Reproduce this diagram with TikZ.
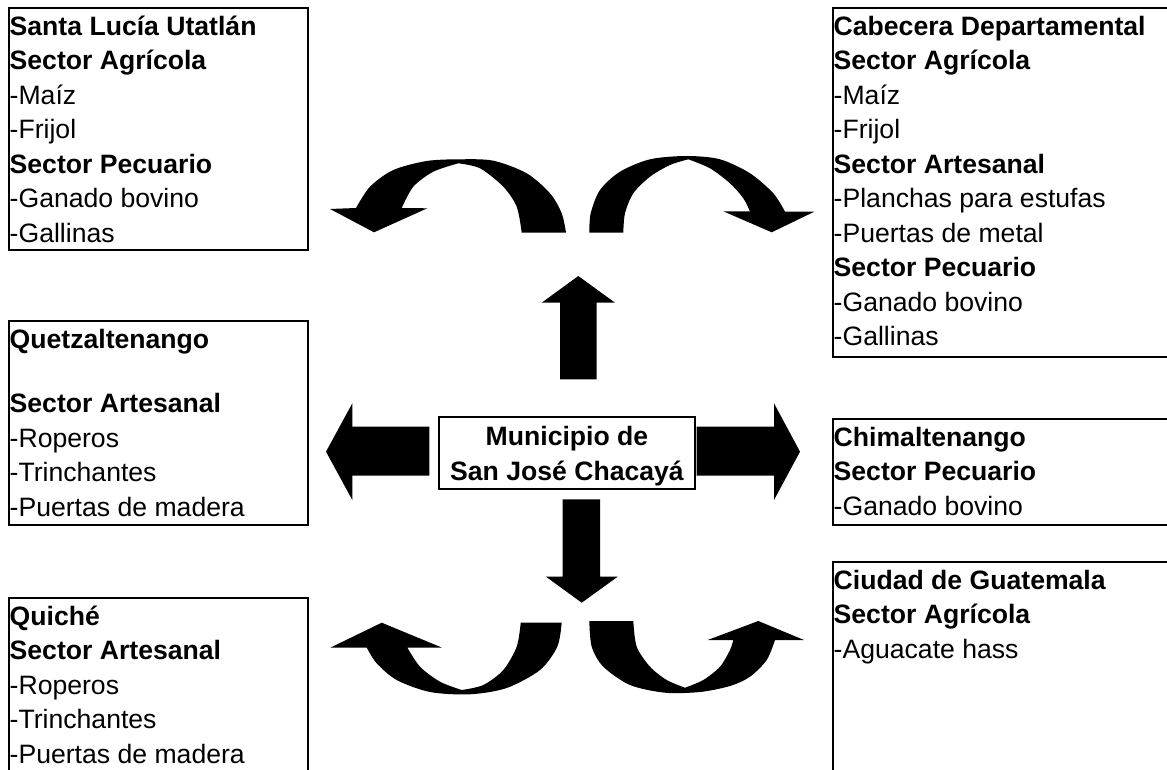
\documentclass[tikz,border=0pt]{standalone}
\usepackage{fontspec}
\setmainfont{Liberation Sans}
\tikzstyle{canvas} = [x = 1pt, y = -1pt]
\tikzstyle{boxFrame} = [draw, line width = 2.2pt, anchor = north west, inner sep = 0pt]
\tikzstyle{boxText} = [anchor = north west, inner sep = 0pt, align = left, font = \boxFont]
\tikzstyle{centerBox} = [draw, line width = 1.6pt, minimum width = 256pt, minimum height = 72pt, inner sep = 0pt, align = center, font = \boxFont\bfseries]
\tikzstyle{arrowFill} = [fill = black]
\newcommand{\boxFont}{\fontsize{26.6}{34.5}\selectfont}
\newcommand{\lineStrut}{\rule{0pt}{25.5pt}}
\newcommand{\infoBox}[6]{
  \node [boxFrame, minimum width = #4pt, minimum height = #5pt] (#1) at (#2, #3) {};
  \node [boxText] (#1Text) at ([xshift = 1.5pt, yshift = -2.5pt] #1.north west) {\lineStrut #6};
}

\begin{document}
\begin{tikzpicture}[canvas]
      \useasboundingbox (0, 0) rectangle (1167, 770);
      \clip (0, 0) rectangle (1167, 770);
      \infoBox{santaLucia}{8}{7}{299}{242}{\textbf{Santa Lucía Utatlán}\\\textbf{Sector Agrícola}\\-Maíz\\-Frijol\\\textbf{Sector Pecuario}\\-Ganado bovino\\-Gallinas}
      \infoBox{cabecera}{832}{7}{400}{349}{\textbf{Cabecera Departamental}\\\textbf{Sector Agrícola}\\-Maíz\\-Frijol\\\textbf{Sector Artesanal}\\-Planchas para estufas\\-Puertas de metal\\\textbf{Sector Pecuario}\\-Ganado bovino\\-Gallinas}
      \infoBox{quetzaltenango}{8}{320}{299}{204}{\textbf{Quetzaltenango}\\[30pt]\textbf{Sector Artesanal}\\-Roperos\\-Trinchantes\\-Puertas de madera}
      \infoBox{chimaltenango}{832}{418}{400}{106}{\textbf{Chimaltenango}\\\textbf{Sector Pecuario}\\-Ganado bovino}
      \infoBox{quiche}{8}{597}{299}{250}{\textbf{Quiché}\\\textbf{Sector Artesanal}\\-Roperos\\-Trinchantes\\-Puertas de madera}
      \infoBox{guatemala}{832}{561}{400}{250}{\textbf{Ciudad de Guatemala}\\\textbf{Sector Agrícola}\\-Aguacate hass}

      \node [centerBox] (municipio) at (567, 453) {\lineStrut Municipio de\\San José Chacayá};

      \fill [arrowFill] (560, 379.3) -- (560, 302.7) -- (541.7, 302.7) -- (578.3, 276) -- (615, 302.7) -- (596.7, 302.7) -- (596.7, 379.3) -- cycle;
      \fill [arrowFill] (562.7, 499.3) -- (600, 499.3) -- (600, 576.7) -- (617.7, 576.7) -- (581.7, 602.7) -- (546, 576.7) -- (562.7, 576.7) -- cycle;
      \fill [arrowFill] (429.3, 426.7) -- (352.3, 426.7) -- (352.3, 403.3) -- (326, 451.7) -- (352.3, 500) -- (352.3, 475.7) -- (429.3, 475.7) -- cycle;
      \fill [arrowFill] (696.7, 426.7) -- (774, 426.7) -- (774, 403.3) -- (800, 451.7) -- (774, 500) -- (774, 475.7) -- (696.7, 475.7) -- cycle;

      \fill [arrowFill] plot [smooth] coordinates {(566, 232.7) (561.7, 213.3) (550, 193.3) (526.7, 173.3) (493.3, 160.7) (460, 159.3) (426.7, 161) (393.3, 170) (370, 186.7) (356, 208)}
        -- (330, 209) -- (374, 232.3) -- (427.3, 208.3) -- (401.7, 208)
        -- plot [smooth] coordinates {(401.7, 208) (413.3, 186.7) (433.3, 171.7) (458.3, 163.3)}
        -- plot [smooth] coordinates {(458.3, 163.3) (480, 168.3) (503.3, 186.7) (516.7, 206.7) (521.7, 232.7)}
        -- cycle;
      \fill [arrowFill] plot [smooth] coordinates {(589.3, 232.7) (590.7, 213.3) (600, 190) (620, 171.7) (650, 159.3) (686.7, 156) (720, 159.3) (750, 173.3) (773.3, 193.3) (785, 211.7)}
        -- (814.3, 211.7) -- (771.7, 232.3) -- (723.3, 211.3) -- (750, 211.5)
        -- plot [smooth] coordinates {(750, 211.5) (743.3, 198.3) (730, 183.3) (710, 168.3) (688.3, 159.3)}
        -- plot [smooth] coordinates {(688.3, 159.3) (670, 165) (650, 176.7) (633.3, 193.3) (625, 213.3) (623.3, 232.7)}
        -- cycle;
      \fill [arrowFill] plot [smooth] coordinates {(561.7, 622.7) (557.3, 646.7) (540, 670) (506.7, 688) (470, 694.3) (430, 692) (396.7, 680) (376.7, 663.3) (366.7, 647.5)}
        -- (330.7, 647.5) -- (381.7, 622.7) -- (441.7, 647.5) -- (407.3, 647.5)
        -- plot [smooth] coordinates {(407.3, 647.5) (420, 666.7) (440, 681.7) (461.7, 690)}
        -- plot [smooth] coordinates {(461.7, 690) (483.3, 685) (503.3, 670) (516.7, 646.7) (520.7, 622.7)}
        -- cycle;
      \fill [arrowFill] plot [smooth] coordinates {(589.3, 621) (591.7, 646.7) (603.3, 666.7) (630, 685) (665, 692.7) (700, 692) (730, 686) (750, 676.7) (766.7, 660) (775, 640)}
        -- (804, 640) -- (758.3, 621) -- (707.7, 640) -- (733.3, 640)
        -- plot [smooth] coordinates {(733.3, 640) (730, 650) (720, 666.7) (703.3, 680) (685, 687.7)}
        -- plot [smooth] coordinates {(685, 687.7) (666.7, 680) (650, 666.7) (636.7, 646.7) (633.3, 621)}
        -- cycle;
    \end{tikzpicture}
\end{document}
